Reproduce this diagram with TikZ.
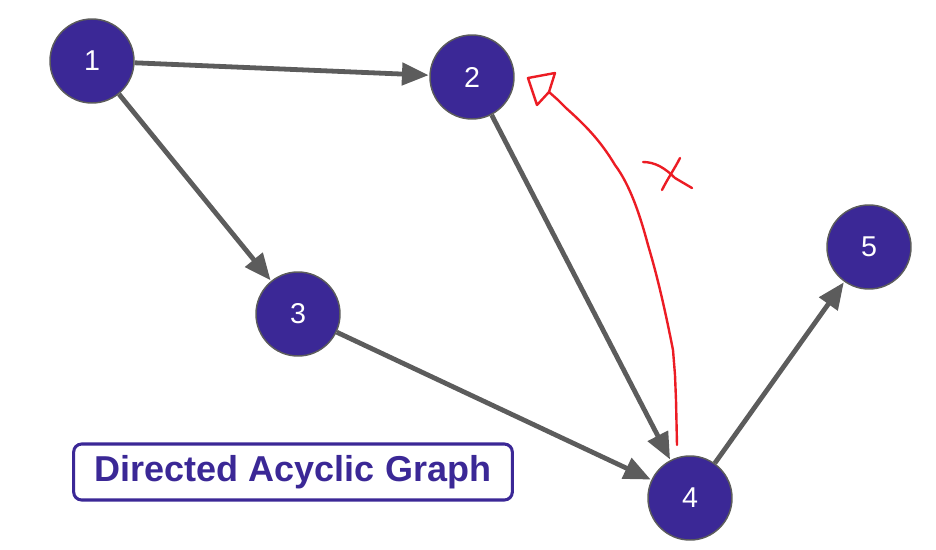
\documentclass[tikz,border=0pt]{standalone}
\usepackage{fontspec}
\setmainfont{Liberation Sans}
\usetikzlibrary{arrows.meta}
\definecolor{dagfill}{RGB}{59,40,150}
\definecolor{dagedge}{RGB}{92,92,92}
\definecolor{dagred}{RGB}{236,28,36}
\tikzset{
  vertex/.style={circle, minimum size=63pt, inner sep=0pt, fill=dagfill,
    draw=dagedge, line width=1.1pt, text=white, font=\fontsize{21.5}{25}\selectfont},
  arc/.style={draw=dagedge, line width=3.6pt,
    -{Triangle[length=20pt, width=16.5pt]}, shorten >=0.5pt},
  title/.style={draw=dagfill, line width=2.3pt, rounded corners=6pt,
    minimum width=329pt, minimum height=42pt, text=dagfill,
    font=\bfseries\fontsize{27}{31}\selectfont},
  redpen/.style={draw=dagred, line width=1.8pt, line cap=round, line join=round}
}
\begin{document}
\begin{tikzpicture}[x=0.75pt, y=-0.75pt]
  \useasboundingbox (0,0) rectangle (936,550);
  % graph vertices
  \node[vertex] (n1) at (92,61) {1};
  \node[vertex] (n2) at (472,77) {2};
  \node[vertex] (n3) at (298,314) {3};
  \node[vertex] (n4) at (690,498) {4};
  \node[vertex] (n5) at (869,247) {5};
  % directed edges
  \draw[arc] (n1) -- (n2);
  \draw[arc] (n1) -- (n3);
  \draw[arc] (n2) -- (n4);
  \draw[arc] (n3) -- (n4);
  \draw[arc] (n4) -- (n5);
  % caption
  \node[title] (cap) at (293,472) {Directed Acyclic Graph};
  % hand-drawn forbidden back edge 4 -> 2
  \coordinate (r0) at (677,445);
  \coordinate (r1) at (549,92);
  \draw[redpen] (r0) -- (676,400) -- (675,375) -- (673,350) .. controls (668,325) and (660,285) .. (648,245)
     .. controls (640,215) and (630,185) .. (615,165) .. controls (600,140) and (585,125) .. (566,108)
     -- (558,100) -- (r1);
  \draw[redpen] (r1) -- (555,73) -- (528,78) -- (537,105) -- cycle;
  % cross mark
  \coordinate (x1) at (643,162);
  \coordinate (x2) at (680,158);
  \draw[redpen] (x1) .. controls (655,162) and (665,168) .. (675,178) -- (692,188);
  \draw[redpen] (x2) .. controls (675,168) and (668,178) .. (662,190);
\end{tikzpicture}
\end{document}
